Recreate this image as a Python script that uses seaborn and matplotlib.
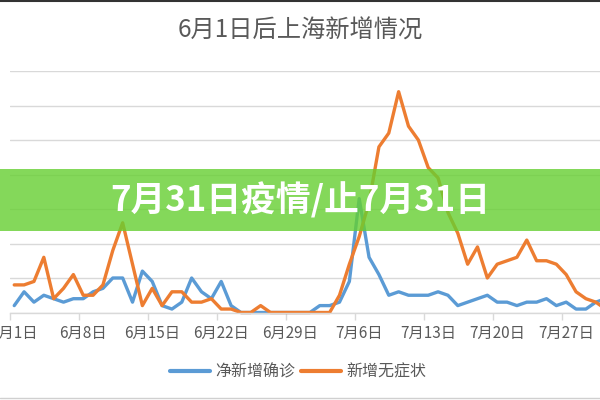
import numpy as np
import pandas as pd
import matplotlib
matplotlib.use('Agg')
import matplotlib.pyplot as plt
from matplotlib.lines import Line2D
from matplotlib.patches import Rectangle
import seaborn as sns

# 数据：6月1日 ~ 7月31日，逐日
confirmed = [2, 6, 3, 5, 4, 3, 4, 4, 6, 7, 10, 10, 3, 12, 9, 2, 1, 3, 10, 6,
             4, 9, 2, 0, 0, 0, 0, 0, 0, 0, 0, 2, 2, 3, 9, 33, 16, 11, 5, 6,
             5, 5, 5, 6, 5, 2, 3, 4, 5, 3, 3, 2, 3, 3, 4, 2, 3, 1, 1, 3, 4]
asymptomatic = [8, 8, 9, 16, 4, 7, 11, 5, 5, 8, 18, 26, 14, 2, 7, 2, 6, 6, 3, 3,
                4, 1, 1, 0, 0, 2, 0, 0, 0, 0, 0, 0, 0, 5, 14, 22, 32, 48, 52, 64,
                54, 50, 42, 39, 29, 23, 14, 19, 10, 14, 15, 16, 21, 15, 15, 14, 11, 6, 4, 3, 1]
series_names = ['净新增确诊', '新增无症状']
tick_days = [0, 7, 14, 21, 28, 35, 42, 49, 56]
tick_labels = ['6月1日', '6月8日', '6月15日', '6月22日', '6月29日',
               '7月6日', '7月13日', '7月20日', '7月27日']

days = np.arange(len(confirmed))
df = pd.DataFrame({
    'day': np.concatenate([days, days]),
    'value': confirmed + asymptomatic,
    'series': [series_names[0]] * len(days) + [series_names[1]] * len(days),
})

sns.set_theme(style='white')
plt.rcParams['font.family'] = ['Noto Sans CJK SC', 'DejaVu Sans']

colors = {'净新增确诊': '#5B9BD5', '新增无症状': '#ED7D31'}
grey = '#595959'

fig = plt.figure(figsize=(6, 4), dpi=100)
ax = fig.add_axes([10 / 600, 1 - 312.5 / 400, 590 / 600, (312.5 - 71) / 400])

sns.lineplot(data=df, x='day', y='value', hue='series', palette=colors,
             linewidth=2.4, ax=ax, legend=False)
for ln in ax.lines:
    ln.set_clip_on(False)
    ln.set_solid_joinstyle('round')

ax.set_ylim(0, 70)
ax.set_yticks(range(0, 71, 10))
ax.set_yticklabels([])
ax.tick_params(axis='y', length=0)
ax.grid(axis='y', color='#d9d9d9', linewidth=1)
ax.set_axisbelow(True)

ax.set_xlim(-0.43, 59.43)
ax.set_xticks(tick_days)
ax.set_xticklabels(tick_labels, fontsize=11, color=grey)
ax.set_xticks([d - 0.4 for d in tick_days], minor=True)
ax.tick_params(axis='x', which='major', length=0, pad=9)
ax.tick_params(axis='x', which='minor', length=5, color='#d9d9d9', width=1, bottom=True)
ax.set_xlabel('')
ax.set_ylabel('')
for s in ['top', 'left', 'right']:
    ax.spines[s].set_visible(False)
ax.spines['bottom'].set_color('#d9d9d9')
ax.spines['bottom'].set_linewidth(1)

fig.text(0.5, 0.9225, '6月1日后上海新增情况', ha='center', va='center',
         fontsize=17.5, color=grey)

handles = [Line2D([], [], color=colors[n], lw=3) for n in series_names]
fig.legend(handles, series_names, loc='center', bbox_to_anchor=(0.497, 0.07),
           ncol=2, frameon=False, fontsize=11.5, labelcolor=grey,
           handlelength=2.5, handletextpad=0.35, columnspacing=0.35)

# 绿色横幅
fig.add_artist(Rectangle((0, 0.4225), 1, 0.155, transform=fig.transFigure,
                         facecolor='#66cf31', edgecolor='none', alpha=0.8, zorder=10))
fig.text(0.5, 0.5, '7月31日疫情/止7月31日', ha='center', va='center',
         fontsize=25, fontweight='bold', color='white', zorder=11)

# 边框
fig.add_artist(Line2D([0, 1], [0.997, 0.997], transform=fig.transFigure,
                      color='#333333', lw=1.5))
fig.add_artist(Line2D([0, 1], [0.005, 0.005], transform=fig.transFigure,
                      color='#d0d0d0', lw=1))

fig.savefig('out.png', dpi=100)
